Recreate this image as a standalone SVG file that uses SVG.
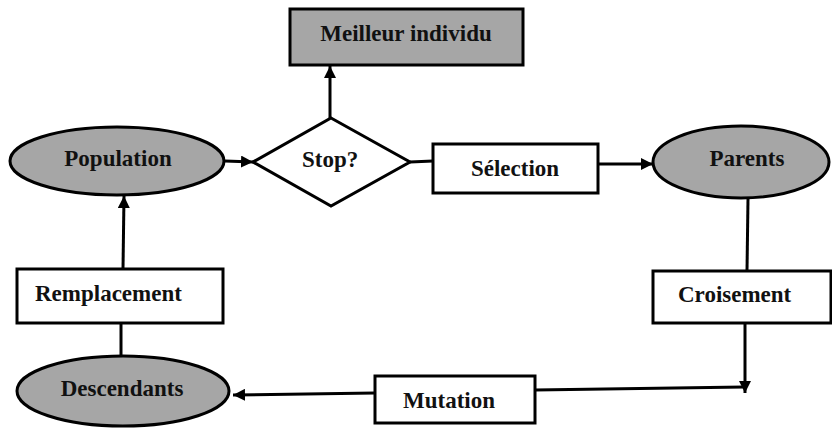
<svg xmlns="http://www.w3.org/2000/svg" width="832" height="428" viewBox="0 0 832 428">
<defs>
<marker id="ah" markerUnits="userSpaceOnUse" markerWidth="12" markerHeight="12" viewBox="0 0 12 12" refX="12" refY="6" orient="auto">
<path d="M0,0 L12,6 L0,12 Z" fill="#000"/>
</marker>
</defs>
<style>
.box{fill:#fff;stroke:#000;stroke-width:3}
.gray{fill:#a6a6a6;stroke:#000;stroke-width:3}
.lbl{font-weight:bold;font-size:23px;fill:#111}
.c{text-anchor:middle}
.ln{fill:none;stroke:#000;stroke-width:3}
</style>
<rect width="832" height="428" fill="#fff"/>
<g id="connectors">
<line class="ln" x1="330" y1="118" x2="330" y2="66" marker-end="url(#ah)"/>
<line class="ln" x1="225" y1="161" x2="253" y2="162" marker-end="url(#ah)"/>
<line class="ln" x1="410" y1="162" x2="433" y2="161"/>
<line class="ln" x1="598" y1="164" x2="653" y2="164" marker-end="url(#ah)"/>
<line class="ln" x1="748" y1="199" x2="747" y2="271"/>
<line class="ln" x1="745" y1="323" x2="745" y2="393" marker-end="url(#ah)"/>
<line class="ln" x1="535" y1="390" x2="744" y2="387"/>
<line class="ln" x1="375" y1="393" x2="233" y2="395" marker-end="url(#ah)"/>
<line class="ln" x1="121" y1="356" x2="121" y2="323"/>
<line class="ln" x1="123" y1="269" x2="124" y2="196" marker-end="url(#ah)"/>
</g>
<g font-family="'Liberation Serif', 'Times New Roman', serif">
<g id="meilleur">
<rect class="gray" x="290" y="9" width="233" height="56"/>
<text class="lbl c" x="406" y="41">Meilleur individu</text>
</g>
<g id="population">
<ellipse class="gray" cx="117" cy="161" rx="107" ry="34"/>
<text class="lbl c" x="118" y="166">Population</text>
</g>
<g id="stop">
<polygon class="box" points="331,118 410,162 331,206 253,162"/>
<text class="lbl" x="302" y="167">Stop?</text>
</g>
<g id="selection">
<rect class="box" x="433" y="144" width="165" height="49"/>
<text class="lbl c" x="515" y="176">Sélection</text>
</g>
<g id="parents">
<ellipse class="gray" cx="741" cy="162" rx="88" ry="36"/>
<text class="lbl c" x="747" y="166">Parents</text>
</g>
<g id="croisement">
<rect class="box" x="653" y="271" width="178" height="52"/>
<text class="lbl" x="678" y="302">Croisement</text>
</g>
<g id="mutation">
<rect class="box" x="375" y="376" width="160" height="47"/>
<text class="lbl" x="403" y="408">Mutation</text>
</g>
<g id="descendants">
<ellipse class="gray" cx="123" cy="391" rx="106" ry="35"/>
<text class="lbl c" x="122" y="396">Descendants</text>
</g>
<g id="remplacement">
<rect class="box" x="17" y="269" width="206" height="54"/>
<text class="lbl" x="35" y="301">Remplacement</text>
</g>
</g>
</svg>
